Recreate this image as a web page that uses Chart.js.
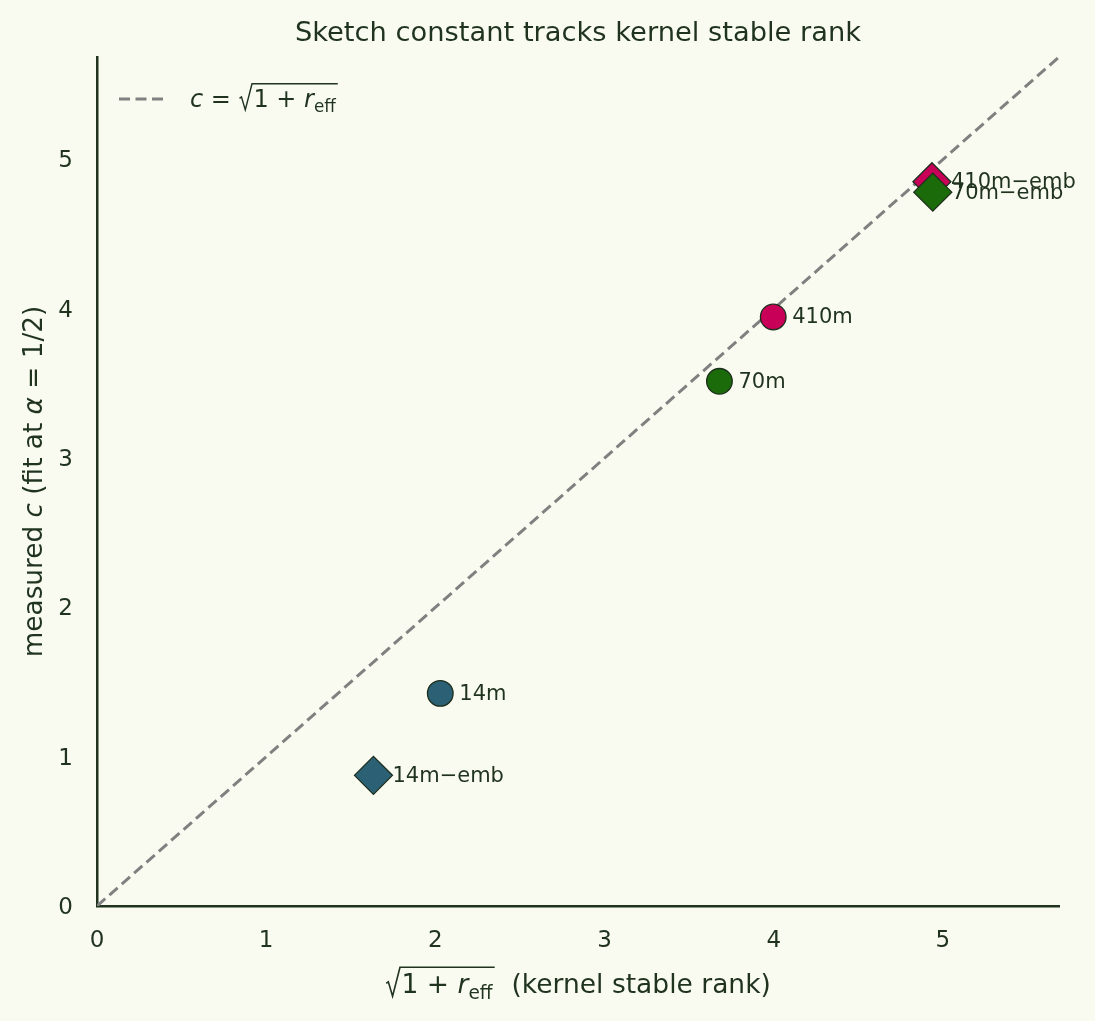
<!DOCTYPE html>
<html>
<head>
<meta charset="utf-8">
<script src="https://cdn.jsdelivr.net/npm/chart.js@4"></script>
<style>
  body { margin: 0; background: #fafbf0; }
  canvas { display: block; }
</style>
</head>
<body>
<canvas id="sketchChart" width="1095" height="1021"></canvas>
<script>
const models = ["14m", "70m", "410m"];
const modelColors = ["#2c6175", "#1b6b0b", "#c80058"];
// base models (circles): sqrt(1 + r_eff) vs measured c
const baseRank = [2.029, 3.679, 3.997];
const baseC = [1.424, 3.514, 3.945];
// embedding variants (diamonds)
const embRank = [1.634, 4.94, 4.935];
const embC = [0.875, 4.781, 4.851];
const xTicks = [0, 1, 2, 3, 4, 5];
const yTicks = [0, 1, 2, 3, 4, 5];
const axisMax = 5.686;
const refLine = [0, axisMax];

const ink = "#1f331f";
const FONT = '"DejaVu Sans"';

function fontStr(size, italic) {
  return (italic ? "italic " : "") + size + "px " + FONT;
}

// tiny mathtext: parts are {t, it, sub} or {root: [...]}
function partWidth(ctx, p, size) {
  if (p.root) {
    return size * 0.62 + p.root.reduce((s, q) => s + partWidth(ctx, q, size), 0) + size * 0.08;
  }
  const sz = p.sub ? size * 0.7 : size;
  ctx.font = fontStr(sz, p.it);
  return ctx.measureText(p.t).width;
}

function drawParts(ctx, parts, x, y, size) {
  let cx = x;
  parts.forEach(p => {
    if (p.root) {
      const inner = p.root.reduce((s, q) => s + partWidth(ctx, q, size), 0);
      const top = y - size * 0.97;
      ctx.save();
      ctx.lineWidth = size * 0.06;
      ctx.strokeStyle = ctx.fillStyle;
      ctx.beginPath();
      ctx.moveTo(cx + size * 0.04, y - size * 0.36);
      ctx.lineTo(cx + size * 0.12, y - size * 0.42);
      ctx.lineTo(cx + size * 0.28, y + size * 0.12);
      ctx.lineTo(cx + size * 0.56, top);
      ctx.lineTo(cx + size * 0.62 + inner + size * 0.08, top);
      ctx.stroke();
      ctx.restore();
      drawParts(ctx, p.root, cx + size * 0.62, y, size);
      cx += partWidth(ctx, p, size);
    } else {
      const sz = p.sub ? size * 0.7 : size;
      ctx.font = fontStr(sz, p.it);
      ctx.fillText(p.t, cx, p.sub ? y + size * 0.22 : y);
      cx += ctx.measureText(p.t).width;
    }
  });
  return cx;
}

function richWidth(ctx, parts, size) {
  return parts.reduce((s, p) => s + partWidth(ctx, p, size), 0);
}

const rootExpr = [{ root: [{ t: "1 + " }, { t: "r", it: true }, { t: "eff", sub: true }] }];
const legendParts = [{ t: "c", it: true }, { t: " = " }].concat(rootExpr);
const xTitleParts = rootExpr.concat([{ t: "  (kernel stable rank)" }]);
const yTitleParts = [{ t: "measured " }, { t: "c", it: true }, { t: " (fit at " }, { t: "α", it: true }, { t: " = 1/2)" }];

const decorPlugin = {
  id: "decor",
  afterDatasetsDraw(chart) {
    const ctx = chart.ctx;
    const area = chart.chartArea;
    ctx.save();
    ctx.fillStyle = ink;
    ctx.textBaseline = "middle";
    ctx.textAlign = "left";
    ctx.font = fontStr(21, false);
    // point annotations
    chart.data.datasets.forEach((ds, di) => {
      if (!ds.names) return;
      const meta = chart.getDatasetMeta(di);
      meta.data.forEach((pt, i) => {
        ctx.fillText(ds.names[i], pt.x + 19, pt.y + 1);
      });
    });

    ctx.textBaseline = "alphabetic";
    // title
    ctx.textAlign = "center";
    ctx.font = fontStr(27.3, false);
    ctx.fillText("Sketch constant tracks kernel stable rank", (area.left + area.right) / 2, 41);
    ctx.textAlign = "left";

    // legend
    ctx.save();
    ctx.strokeStyle = "#808080";
    ctx.lineWidth = 3;
    ctx.setLineDash([11, 5.5]);
    ctx.beginPath();
    ctx.moveTo(119, 99);
    ctx.lineTo(168, 99);
    ctx.stroke();
    ctx.restore();
    drawParts(ctx, legendParts, 190, 107, 24);

    // x title
    const xw = richWidth(ctx, xTitleParts, 26.5);
    drawParts(ctx, xTitleParts, (area.left + area.right) / 2 - xw / 2, 993, 26.5);

    // y title
    const yw = richWidth(ctx, yTitleParts, 26.3);
    ctx.save();
    ctx.translate(42, (area.top + area.bottom) / 2);
    ctx.rotate(-Math.PI / 2);
    drawParts(ctx, yTitleParts, -yw / 2, 0, 26.3);
    ctx.restore();
    ctx.restore();
  }
};

const pointSets = models.map((m, i) => ({
  label: m,
  data: [{ x: baseRank[i], y: baseC[i] }, { x: embRank[i], y: embC[i] }],
  names: [m, m + "\u2212emb"],
  pointStyle: ["circle", "rectRot"],
  pointRadius: [12.8, 19],
  pointHoverRadius: [12.8, 19],
  backgroundColor: modelColors[i],
  borderColor: "#1c2e1c",
  borderWidth: 1.3,
  showLine: false,
  order: 1
}));

const refSet = {
  label: "reference",
  data: refLine.map(v => ({ x: v, y: v })),
  showLine: true,
  borderColor: "#808080",
  borderWidth: 3,
  borderDash: [11, 5.5],
  pointRadius: 0,
  fill: false,
  order: 5
};

const ctx = document.getElementById("sketchChart");

new Chart(ctx, {
  type: "scatter",
  data: { datasets: pointSets.concat([refSet]) },
  options: {
    responsive: false,
    animation: false,
    events: [],
    layout: { padding: { top: 57, right: 36, left: 0, bottom: 0 } },
    plugins: {
      legend: { display: false },
      title: { display: false },
      tooltip: { enabled: false }
    },
    scales: {
      x: {
        type: "linear",
        min: 0,
        max: axisMax,
        afterBuildTicks: s => { s.ticks = xTicks.map(v => ({ value: v })); },
        afterFit: s => { s.height = 115; },
        grid: { display: false, drawTicks: false },
        border: { display: true, color: ink, width: 2.5 },
        ticks: { color: ink, padding: 21, font: { family: "DejaVu Sans", size: 23 } }
      },
      y: {
        type: "linear",
        min: 0,
        max: axisMax,
        afterBuildTicks: s => { s.ticks = yTicks.map(v => ({ value: v })); },
        afterFit: s => { s.width = 97; },
        grid: { display: false, drawTicks: false },
        border: { display: true, color: ink, width: 2.5 },
        ticks: { color: ink, padding: 24, labelOffset: 2, font: { family: "DejaVu Sans", size: 23 } }
      }
    }
  },
  plugins: [decorPlugin]
});
</script>
</body>
</html>
